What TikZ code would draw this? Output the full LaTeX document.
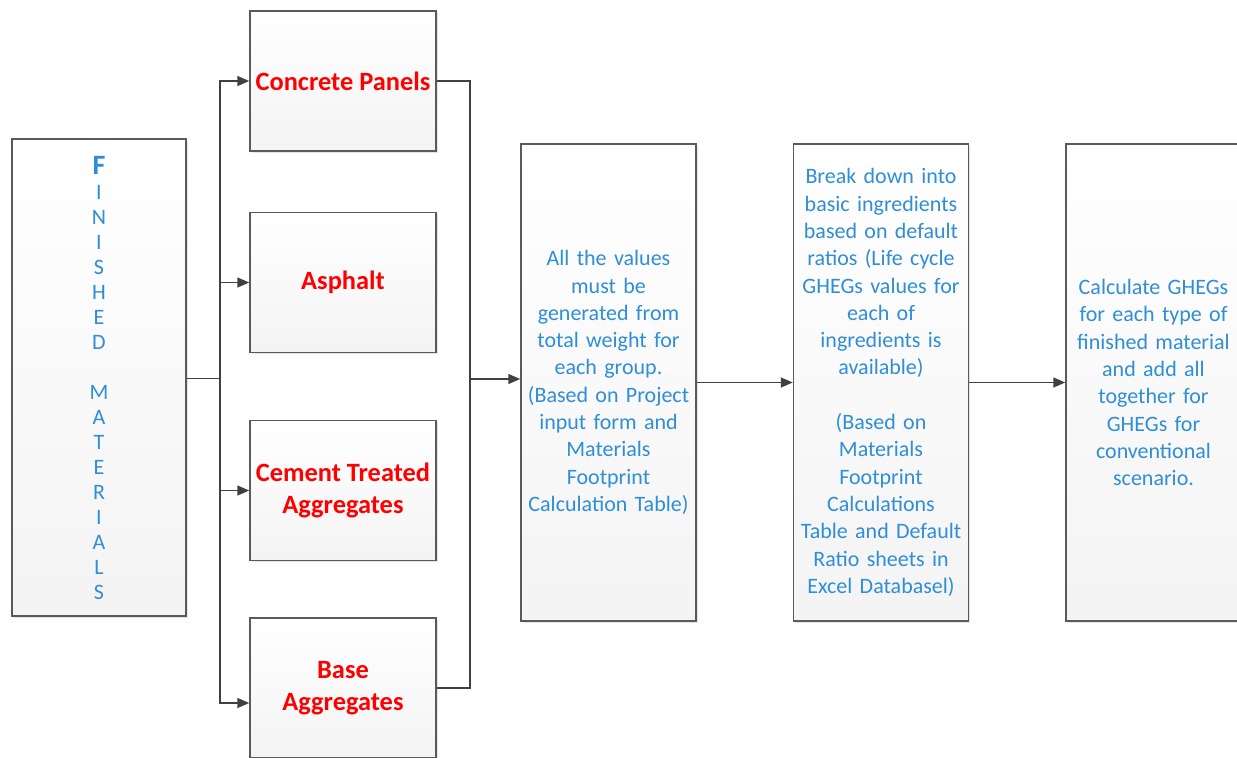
\documentclass[tikz,border=0pt]{standalone}
\usepackage{fontspec}
\setmainfont{Carlito}
\usepackage{xcolor}
\usetikzlibrary{
    arrows.meta,
    shadows,
    calc,
    positioning
}
\definecolor{textblue}{HTML}{2F8ED6}
\definecolor{boxline}{HTML}{5A5A5A}
\definecolor{arrowgray}{HTML}{404040}

\tikzset{
    flowbox/.style={draw=boxline, line width=0.75pt, top color=white, bottom color=gray!9,
        drop shadow={shadow xshift=0.8pt, shadow yshift=-0.8pt, opacity=0.2},
        inner sep=0pt, align=center},
    matbox/.style={flowbox, minimum width=93pt, minimum height=70pt, text=red,
        font=\fontsize{13.2}{16}\selectfont\bfseries},
    stepbox/.style={flowbox, minimum width=87.5pt, minimum height=238.5pt, text width=86pt,
        text=textblue, font=\fontsize{11}{13.65}\selectfont},
    link/.style={draw=arrowgray, line width=0.75pt},
    flow/.style={link, -{Triangle[length=6pt,width=5pt]}}
}

\begin{document}
\begin{tikzpicture}[x=0.5pt, y=-0.5pt]
    \useasboundingbox (0,0) rectangle (1237,757);

    % source column
    \node[stepbox, minimum width=87pt, font=\fontsize{11}{12.5}\selectfont] (fm) at (99,377.5)
        {{\fontsize{14}{14}\selectfont\bfseries F}\\I\\N\\I\\S\\H\\E\\D\\ ~ \\M\\A\\T\\E\\R\\I\\A\\L\\S};

    % material groups
    \node[matbox] (cp) at (343,81) {Concrete Panels};
    \node[matbox] (as) at (343,282.5) {Asphalt};
    \node[matbox] (ct) at (343,490.5) {Cement Treated\\Aggregates};
    \node[matbox] (ba) at (343,688) {Base\\Aggregates};

    % processing steps
    \node[stepbox] (weight) at (608.5,382.5)
        {All the values\\must be\\generated from\\total weight for\\each group.\\(Based on Project\\input form and\\Materials\\Footprint\\Calculation Table)};
    \node[stepbox] (ratios) at (881,382.5)
        {Break down into\\basic ingredients\\based on default\\ratios (Life cycle\\GHEGs values for\\each of\\ingredients is\\available)\\ ~ \\(Based on\\Materials\\Footprint\\Calculations\\Table and Default\\Ratio sheets in\\Excel Databasel)};
    \node[stepbox] (total) at (1153.5,382.5)
        {Calculate GHEGs\\for each type of\\finished material\\and add all\\together for\\GHEGs for\\conventional\\scenario.};

    % fork and merge points
    \coordinate (fork) at (220,378.7);
    \coordinate (merge) at (470,379);

    \draw[link] (fm.east |- fork) -- (fork);
    \draw[flow] (fork) |- (cp.west);
    \draw[flow] (fork) |- (as.west);
    \draw[flow] (fork) |- (ct.west);
    \draw[flow] (fork) |- ([yshift=-7.5pt]ba.west);

    \draw[link] (cp.east) -| (merge);
    \draw[link] (ba.east) -| (merge);
    \draw[flow] (merge) -- (merge -| weight.west);

    \draw[flow] (weight) -- (ratios);
    \draw[flow] (ratios) -- (total);
\end{tikzpicture}
\end{document}
